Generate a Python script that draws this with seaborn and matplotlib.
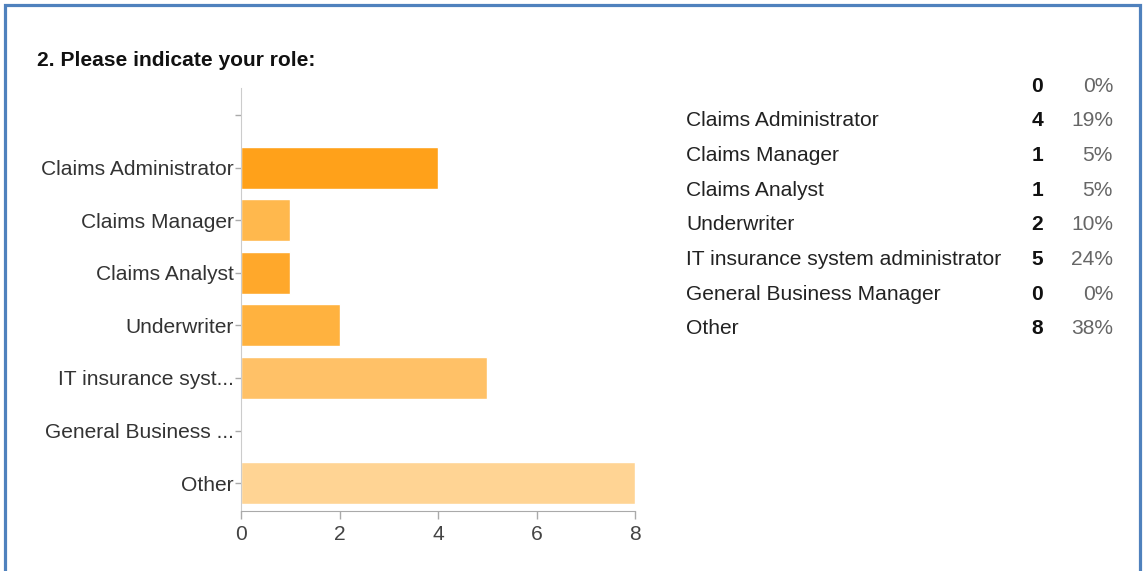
import matplotlib
matplotlib.use("Agg")
import matplotlib.pyplot as plt
import matplotlib.patches as patches
import seaborn as sns

# chart data
roles = ["", "Claims Administrator", "Claims Manager", "Claims Analyst", "Underwriter",
         "IT insurance system administrator", "General Business Manager", "Other"]
axis_labels = [" ", "Claims Administrator", "Claims Manager", "Claims Analyst", "Underwriter",
               "IT insurance syst...", "General Business ...", "Other"]
counts = [0, 4, 1, 1, 2, 5, 0, 8]
percents = ["0%", "19%", "5%", "5%", "10%", "24%", "0%", "38%"]
bar_colors = ["#FFA11A", "#FFA11A", "#FFB84D", "#FFA82B", "#FFB23F", "#FFC167", "#FFC880", "#FFD494"]
x_ticks = [0, 2, 4, 6, 8]

sns.set_style("white")
plt.rcParams["font.family"] = ["Liberation Sans", "DejaVu Sans"]

FS = 15.1
W, H = 1144, 571
fig = plt.figure(figsize=(W / 100, H / 100), dpi=100)
ax = fig.add_axes([241 / W, 1 - 511 / H, 394 / W, 423 / H])

sns.barplot(x=counts, y=axis_labels, hue=axis_labels, palette=bar_colors, legend=False,
            width=0.8, orient="h", saturation=1, ax=ax)

ax.set_xlim(0, 8)
ax.set_ylim(7.53, -0.513)
ax.set_xticks(x_ticks)
ax.set_xticklabels([str(t) for t in x_ticks], fontsize=FS, color="#444444")
ax.tick_params(axis="y", labelsize=FS, labelcolor="#333333", length=4, width=1,
               color="#aaaaaa", left=True, pad=1)
ax.tick_params(axis="x", length=6, width=1, color="#aaaaaa", bottom=True, pad=4)
ax.set_xlabel("")
ax.set_ylabel("")
for s in ["top", "right"]:
    ax.spines[s].set_visible(False)
ax.spines["left"].set_color("#cccccc")
ax.spines["bottom"].set_color("#aaaaaa")

# title
fig.text(37 / W, 1 - 60 / H, "2. Please indicate your role:", fontsize=FS,
         fontweight="bold", color="#111111", ha="left", va="center")

# summary table on the right
for i, (r, c, p) in enumerate(zip(roles, counts, percents)):
    y = 1 - (86 + 34.7 * i) / H
    fig.text(686 / W, y, r, fontsize=FS, color="#222222", ha="left", va="center")
    fig.text(1043 / W, y, str(c), fontsize=FS, fontweight="bold", color="#111111",
             ha="right", va="center")
    fig.text(1113 / W, y, p, fontsize=FS, color="#666666", ha="right", va="center")

# blue frame
frame = patches.Rectangle((5 / W, -0.05), 1135 / W, 1.05 - 5 / H, transform=fig.transFigure,
                          fill=False, edgecolor="#4F81BD", linewidth=2.3)
fig.patches.append(frame)

fig.savefig("out.png", dpi=100, facecolor="white")
